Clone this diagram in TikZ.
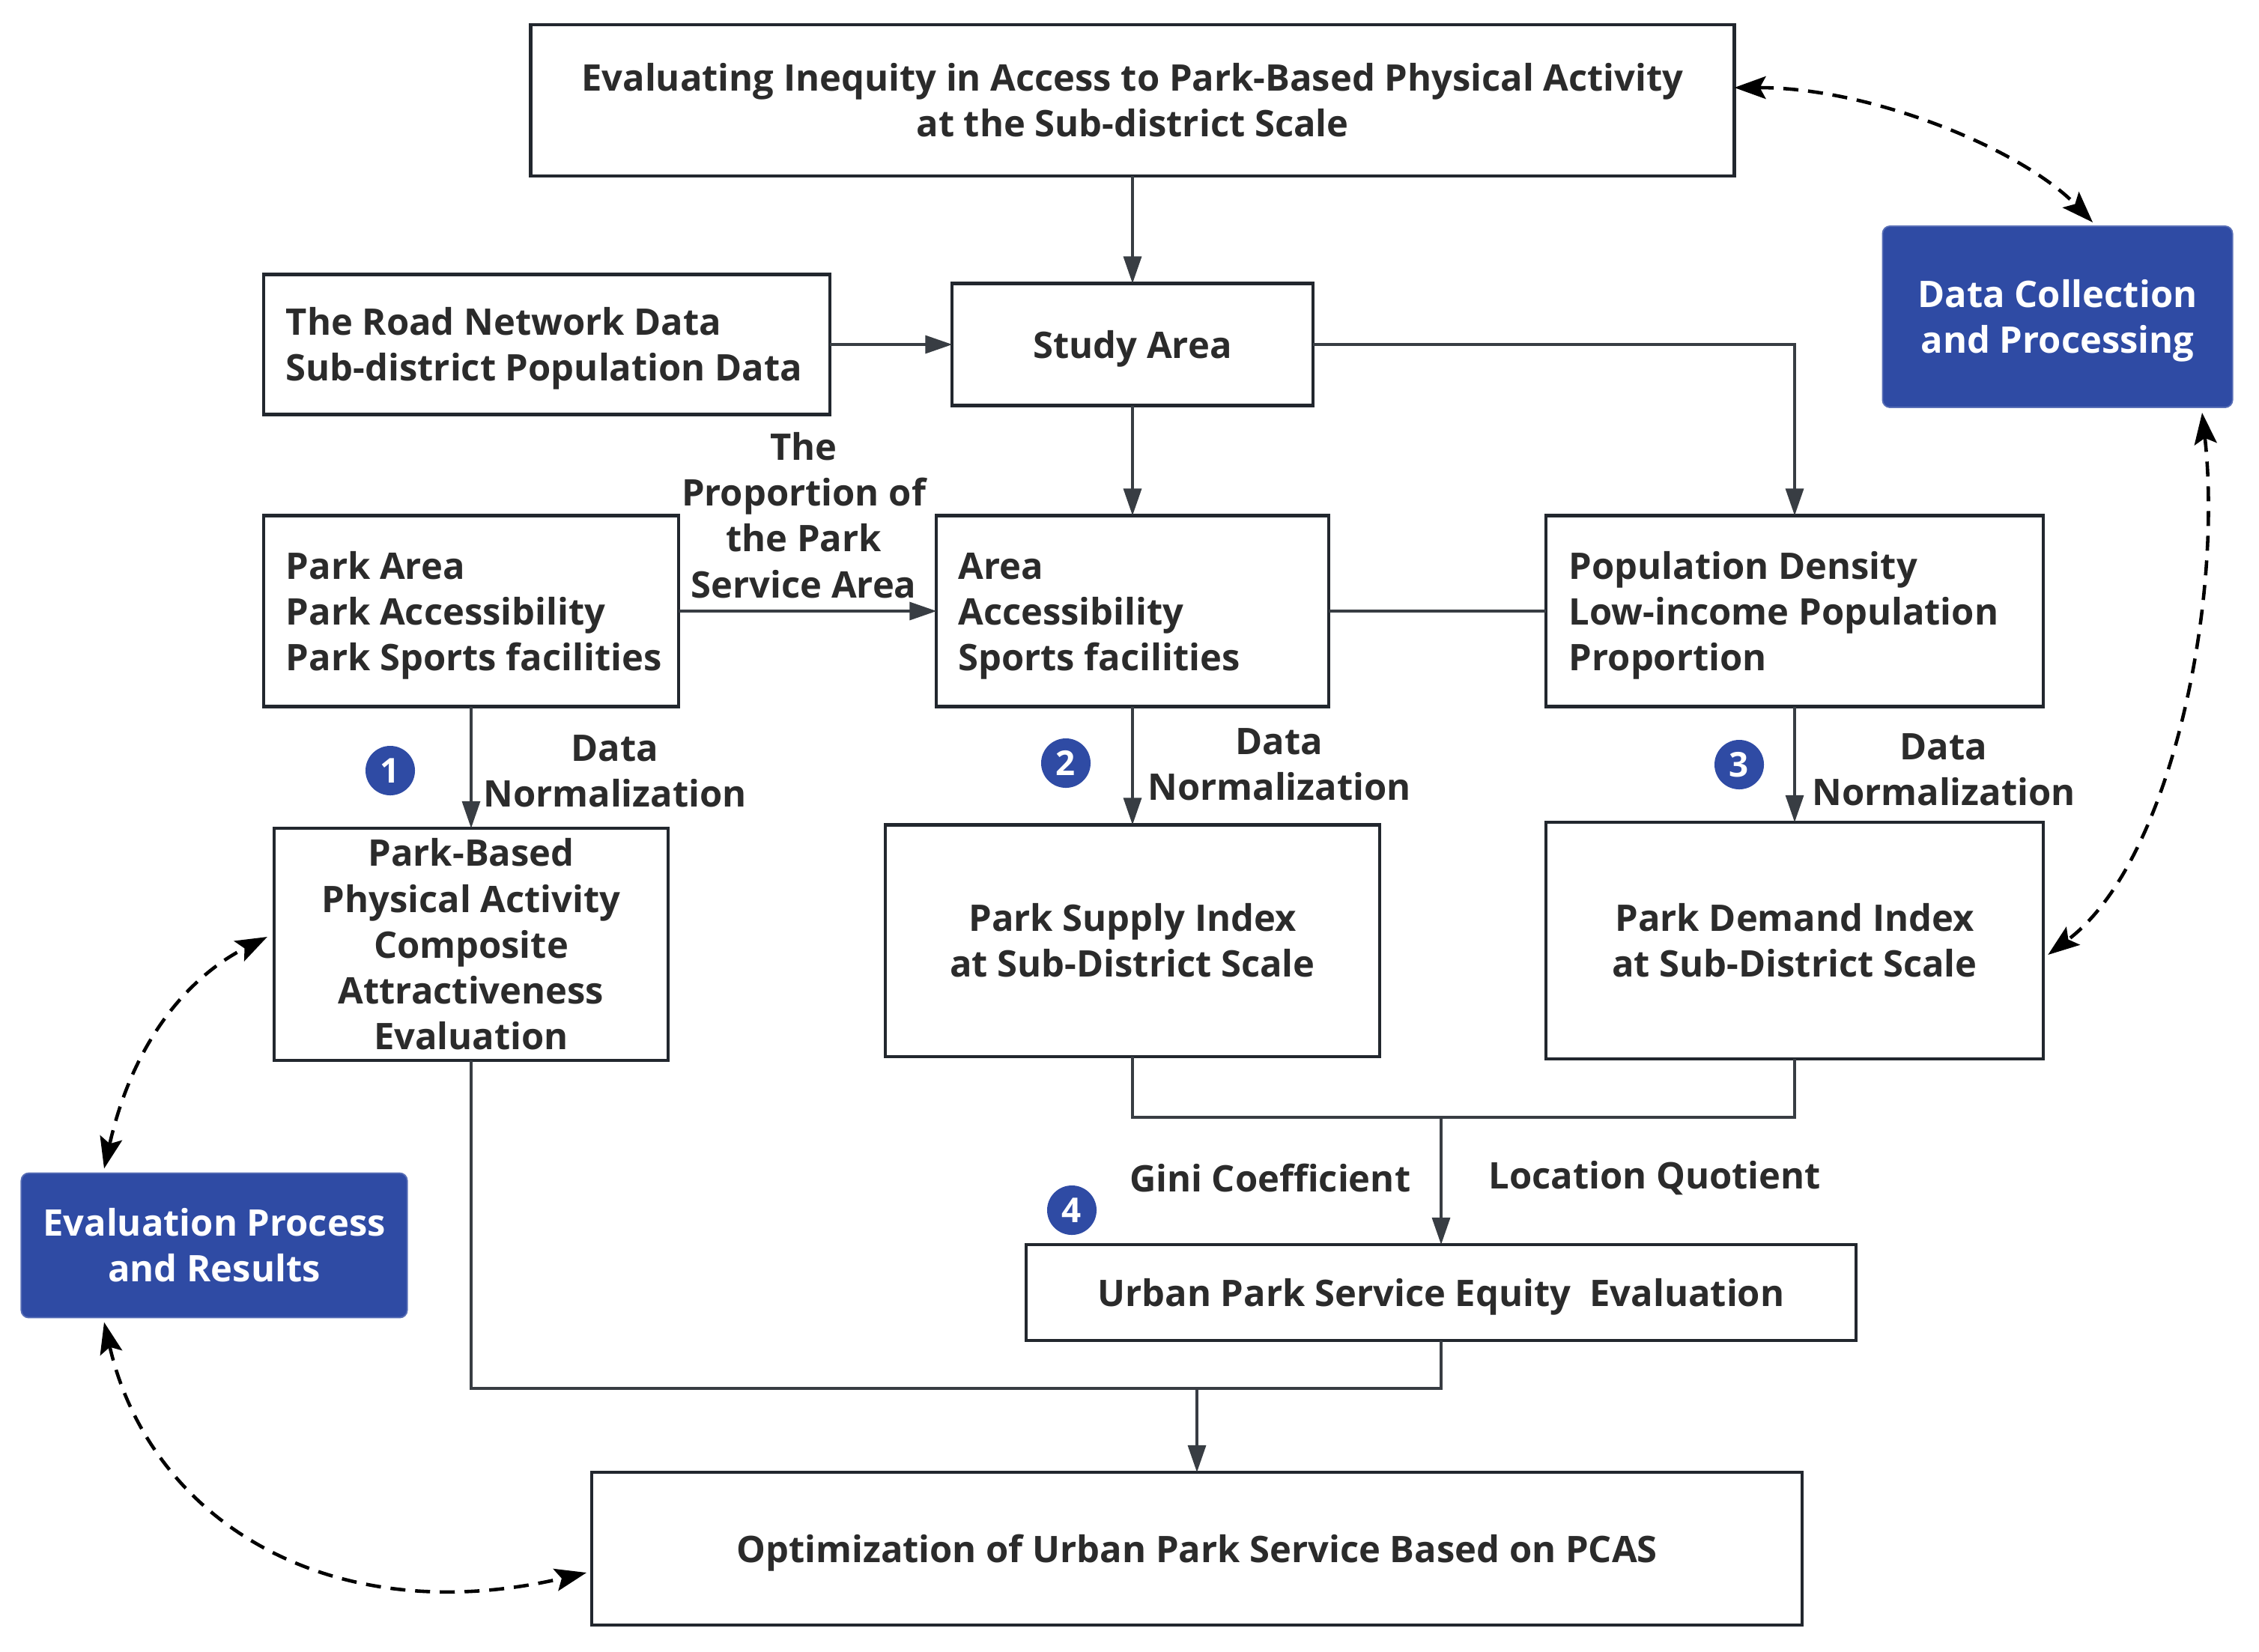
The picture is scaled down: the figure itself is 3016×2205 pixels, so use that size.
\documentclass[tikz,border=0pt]{standalone}
\usepackage{fontspec}
\setmainfont{Open Sans}[BoldFont=* Bold]
\usetikzlibrary{arrows.meta,calc}
\definecolor{bluebox}{RGB}{47,75,164}
\definecolor{edge}{RGB}{34,39,46}
\definecolor{txt}{RGB}{43,43,43}
\newcommand{\bodyfont}{\fontsize{13.9}{17.4}\selectfont\bfseries}
\newcommand{\lowertext}[1]{\raisebox{0pt}[\dimexpr\height+0.12cm\relax][\depth]{#1}}
\newcommand{\lefttext}[2]{\lowertext{\makebox[#1][l]{\begin{tabular}{@{}l@{}}#2\end{tabular}}}}
\tikzset{
  box/.style={draw=edge, line width=1.2pt, rectangle, inner sep=0pt, outer sep=0pt,
    font=\bodyfont, text=txt, align=center},
  lbox/.style={box},
  bluenode/.style={fill=bluebox, draw=bluebox!80!white, line width=0.5pt, rounded corners=0.1cm,
    inner sep=0pt, outer sep=0pt, font=\bodyfont, text=white, align=center},
  lbl/.style={font=\bodyfont, text=txt, align=center, inner sep=0pt},
  num/.style={circle, fill=bluebox, text=white, minimum size=0.66cm, inner sep=0pt,
    font=\fontsize{13}{13}\selectfont\bfseries},
  conn/.style={draw=edge!90!white, line width=0.9pt},
  arr/.style={conn, -{Triangle[length=0.36cm,width=0.24cm]}},
  darr/.style={draw=black, line width=1.3pt, dash pattern=on 0.2cm off 0.13cm,
    {Stealth[length=0.42cm,width=0.3cm,inset=0.08cm]}-{Stealth[length=0.42cm,width=0.3cm,inset=0.08cm]}}
}
\begin{document}
\begin{tikzpicture}[x=0.01cm,y=-0.01cm]
\useasboundingbox (0,0) rectangle (3016,2205);

\node[box, minimum width=16.06cm, minimum height=2.02cm] (top) at (1512,134)
  {Evaluating Inequity in Access to Park-Based Physical Activity\\at the Sub-district Scale};
\node[lbox, minimum width=7.56cm, minimum height=1.87cm] (road) at (730,460)
  {\lefttext{6.96cm}{The Road Network Data\\Sub-district Population Data}};
\node[box, minimum width=4.81cm, minimum height=1.63cm] (study) at (1512,460) {\lowertext{Study Area}};
\node[lbox, minimum width=5.54cm, minimum height=2.55cm] (park) at (629,816)
  {\lefttext{4.94cm}{Park Area\\Park Accessibility\\Park Sports facilities}};
\node[lbox, minimum width=5.23cm, minimum height=2.55cm] (area) at (1512,816)
  {\lefttext{4.65cm}{Area\\Accessibility\\Sports facilities}};
\node[lbox, minimum width=6.64cm, minimum height=2.55cm] (pop) at (2396,816)
  {\lefttext{6.02cm}{Population Density\\Low-income Population\\Proportion}};
\node[box, minimum width=5.26cm, minimum height=3.10cm] (pbased) at (629,1261)
  {Park-Based\\Physical Activity\\Composite\\Attractiveness\\Evaluation};
\node[box, minimum width=6.60cm, minimum height=3.09cm] (supply) at (1512,1256)
  {Park Supply Index\\at Sub-District Scale};
\node[box, minimum width=6.64cm, minimum height=3.16cm] (demand) at (2396,1256)
  {Park Demand Index\\at Sub-District Scale};
\node[box, minimum width=11.07cm, minimum height=1.28cm] (urban) at (1924,1726)
  {\lowertext{Urban Park Service Equity\ \ Evaluation}};
\node[box, minimum width=16.15cm, minimum height=2.04cm] (opt) at (1598,2068)
  {\lowertext{Optimization of Urban Park Service Based on PCAS}};
\node[bluenode, minimum width=4.67cm, minimum height=2.42cm] (datacol) at (2747,423)
  {\lowertext{\begin{tabular}{@{}c@{}}Data Collection\\and Processing\end{tabular}}};
\node[bluenode, minimum width=5.15cm, minimum height=1.93cm] (evalres) at (286,1663)
  {Evaluation Process\\and Results};

% labels
\node[lbl] (prop) at (1073,688) {The\\Proportion of\\the Park\\Service Area};
\node[lbl] (dn1) at (821,1030) {Data\\Normalization};
\node[lbl] (dn2) at (1708,1021) {Data\\Normalization};
\node[lbl] (dn3) at (2595,1028) {Data\\Normalization};
\node[lbl, anchor=east] (gini) at (1884,1573) {Gini Coefficient};
\node[lbl, anchor=west] (lq) at (1987,1573) {Location Quotient};

\node[num] (n1) at (521,1029) {1};
\node[num] (n2) at (1423,1019) {2};
\node[num] (n3) at (2322,1021) {3};
\node[num] (n4) at (1431,1616) {4};

% solid connectors
\draw[arr] (top.south) -- (study.north);
\draw[arr] (road.east) -- (study.west);
\draw[arr] (study.south) -- (area.north);
\draw[arr] (study.east) -| (pop.north);
\draw[arr] (park.east) -- (area.west);
\draw[conn] (area.east) -- (pop.west);
\draw[arr] (park.south) -- (pbased.north);
\draw[arr] (area.south) -- (supply.north);
\draw[arr] (pop.south) -- (demand.north);
\coordinate (jn) at (1924,1492);
\draw[conn] (supply.south) |- (jn) -| (demand.south);
\draw[arr] (jn) -- (urban.north);
\coordinate (jb) at (1598,1854);
\draw[conn] (pbased.south) |- (jb) -| (urban.south);
\draw[arr] (jb) -- (opt.north);

% dashed feedback arrows
\draw[darr] ($(top.east)+(0,-17)$) .. controls (2500,117) and (2700,200) .. ($(datacol.north)+(47,-5)$);
\draw[darr] ($(datacol.south)+(193,7)$) .. controls (2968,800) and (2900,1150) .. ($(demand.east)+(6,19)$);
\draw[darr] ($(evalres.north)+(-147,-6)$) .. controls (180,1380) and (260,1300) .. ($(pbased.west)+(-9,-10)$);
\draw[darr] ($(evalres.south)+(-147,6)$) .. controls (200,2030) and (440,2180) .. ($(opt.west)+(-7,32)$);
\end{tikzpicture}
\end{document}
